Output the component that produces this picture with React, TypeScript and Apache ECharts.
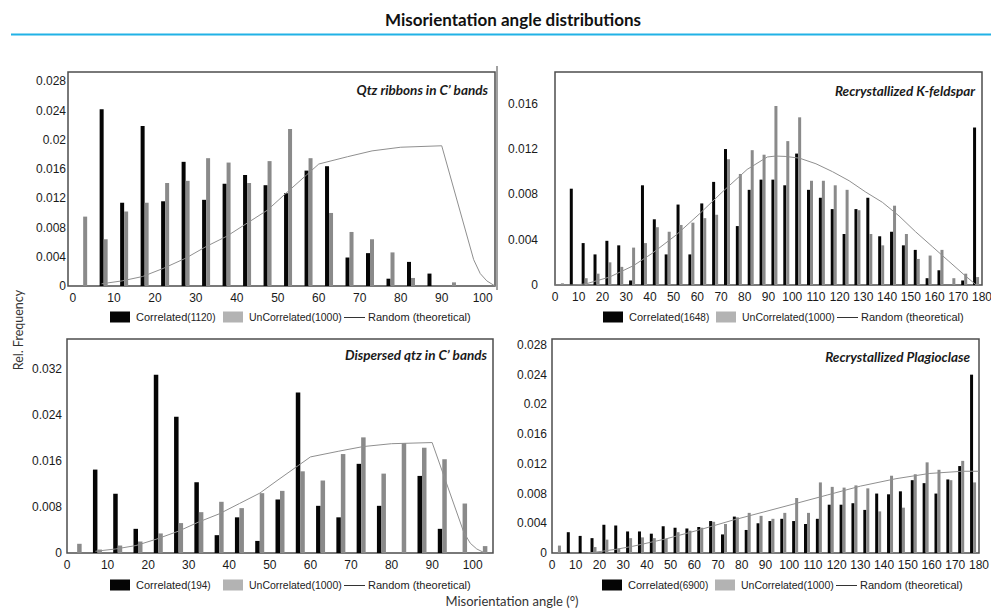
import React, { useEffect, useRef } from "react";
import * as echarts from "echarts";

// ---------- data ----------
const quartzBins = [2.5, 7.5, 12.5, 17.5, 22.5, 27.5, 32.5, 37.5, 42.5, 47.5, 52.5, 57.5, 62.5, 67.5, 72.5, 77.5, 82.5, 87.5, 92.5, 97.5, 102.5];
const feldsparBins = [2.5, 7.5, 12.5, 17.5, 22.5, 27.5, 32.5, 37.5, 42.5, 47.5, 52.5, 57.5, 62.5, 67.5, 72.5, 77.5, 82.5, 87.5, 92.5, 97.5, 102.5, 107.5, 112.5, 117.5, 122.5, 127.5, 132.5, 137.5, 142.5, 147.5, 152.5, 157.5, 162.5, 167.5, 172.5, 177.5];

const quartzTicks = [0, 10, 20, 30, 40, 50, 60, 70, 80, 90, 100];
const wideTicks = [0, 10, 20, 30, 40, 50, 60, 70, 80, 90, 100, 110, 120, 130, 140, 150, 160, 170, 180];
const freqTicks28 = [0, 0.004, 0.008, 0.012, 0.016, 0.02, 0.024, 0.028];
const freqTicks16 = [0, 0.004, 0.008, 0.012, 0.016];
const freqTicks32 = [0, 0.008, 0.016, 0.024, 0.032];

// Qtz ribbons in C' bands
const ribbonsCorr = [0, 0.0242, 0.0114, 0.0219, 0.0116, 0.017, 0.0118, 0.014, 0.0152, 0.0138, 0.0127, 0.0158, 0.0164, 0.0039, 0.0045, 0.001, 0.0033, 0.0017, 0, 0, 0];
const ribbonsUncorr = [0.0095, 0.0064, 0.0102, 0.0114, 0.0141, 0.0144, 0.0175, 0.0169, 0.0141, 0.0171, 0.0215, 0.0175, 0.01, 0.0074, 0.0064, 0.0046, 0.0011, 0, 0.0005, 0, 0];

// Recrystallized K-feldspar
const kfsCorr = [0, 0.0085, 0.0037, 0.0027, 0.0039, 0.0035, 0.0004, 0.0088, 0.0058, 0.0027, 0.0071, 0.0027, 0.0072, 0.0091, 0.012, 0.0052, 0.0084, 0.0093, 0.0093, 0.0088, 0.0116, 0.0084, 0.0077, 0.0067, 0.0045, 0.0067, 0.0077, 0.0043, 0.0047, 0.0035, 0.0031, 0.0006, 0.0013, 0, 0.0004, 0.0139];
const kfsUncorr = [0.00015, 0, 0.0006, 0.001, 0.002, 0.0016, 0.0033, 0.0037, 0.0051, 0.0047, 0.0053, 0.0055, 0.0059, 0.0062, 0.0111, 0.0098, 0.0119, 0.0115, 0.0158, 0.0127, 0.0148, 0.0092, 0.0092, 0.0088, 0.0084, 0.0066, 0.0045, 0.0035, 0.007, 0.0045, 0.0023, 0.0026, 0.0031, 0.0006, 0.001, 0.0007];

// Dispersed qtz in C' bands
const dispCorr = [0, 0.0145, 0.0103, 0.0042, 0.031, 0.0237, 0.0123, 0.0031, 0.0062, 0.0021, 0.0093, 0.0279, 0.0082, 0.0062, 0.0155, 0.0082, 0, 0.0134, 0.0042, 0, 0];
const dispUncorr = [0.0016, 0.0006, 0.0013, 0.002, 0.0034, 0.0052, 0.0071, 0.0089, 0.0078, 0.0104, 0.0108, 0.0142, 0.0126, 0.0172, 0.0201, 0.0138, 0.0191, 0.0183, 0.0163, 0.0086, 0.0012];

// Recrystallized Plagioclase
const plagCorr = [0, 0.0028, 0.0023, 0.002, 0.0038, 0.0037, 0.0029, 0.0029, 0.0026, 0.0036, 0.0034, 0.0033, 0.0035, 0.0043, 0.0025, 0.0049, 0.0031, 0.004, 0.0043, 0.0046, 0.0043, 0.0039, 0.0046, 0.0065, 0.0065, 0.0067, 0.0058, 0.008, 0.0079, 0.0083, 0.0098, 0.0094, 0.008, 0.0099, 0.0117, 0.024];
const plagUncorr = [0.001, 0, 0, 0.0008, 0.0018, 0.0006, 0.002, 0.0021, 0.002, 0.0019, 0.0028, 0.003, 0.0034, 0.0042, 0.0039, 0.0048, 0.0054, 0.005, 0.0046, 0.0054, 0.0074, 0.0054, 0.0095, 0.0089, 0.0088, 0.0091, 0.0087, 0.0056, 0.0104, 0.0061, 0.0106, 0.0122, 0.0112, 0.0098, 0.0124, 0.0095];

// Random (theoretical) curves
const quartzRandomAngle = [7, 12, 17, 22, 27.5, 32.5, 37.5, 42.5, 47.5, 52, 57, 60, 67, 73, 80, 90, 97.8, 99.4, 101, 103];
const quartzRandomFreq = [0.0003, 0.0007, 0.0013, 0.0024, 0.0038, 0.0054, 0.0068, 0.0086, 0.0104, 0.0127, 0.0152, 0.0167, 0.0177, 0.0185, 0.019, 0.0192, 0.0036, 0.0017, 0.0007, 0];
const kfsRandomAngle = [0, 8, 13, 23, 33, 41, 51, 61, 71, 81, 89.5, 93, 97, 103, 110, 117, 124, 131, 138, 145, 152, 159, 166, 173, 177.6];
const kfsRandomFreq = [0, 0, 0.0001, 0.0007, 0.0017, 0.0028, 0.0044, 0.0063, 0.0083, 0.0102, 0.0113, 0.01138, 0.01135, 0.0112, 0.0107, 0.01, 0.0092, 0.0082, 0.0073, 0.0061, 0.0047, 0.0034, 0.0021, 0.0008, 0];
const plagRandomAngle = [15, 18, 27, 34, 48, 62, 76, 89, 102, 116, 130, 145, 159, 173, 180];
const plagRandomFreq = [0, 0.0001, 0.0005, 0.0009, 0.0019, 0.0031, 0.0044, 0.0055, 0.0066, 0.0078, 0.009, 0.01, 0.0107, 0.011, 0.011];

const correlatedCounts = [1120, 1648, 194, 6900];
const uncorrelatedCount = 1000;
const panelTitles = ["Qtz ribbons in C\u2019 bands", "Recrystallized K-feldspar", "Dispersed qtz in C\u2019 bands", "Recrystallized Plagioclase"];

// ---------- styling / layout ----------
const NUM_FONT = '"Liberation Sans", Arial, sans-serif';
const HUM_FONT = 'Lato, "Open Sans", sans-serif';
const BLACK = "#050505";
const GRAY = "#8a8a8a";
const LEGEND_GRAY = "#b3b3b3";

const zip = (xs: number[], ys: number[]) => xs.map((x, i) => [x, ys[i]]);

const panels = [
  { left: 68, top: 72, width: 427, height: 214, xMin: -1.2, xMax: 103, xTicks: quartzTicks, yMax: 0.0293, yTicks: freqTicks28, yMargin: 2, bins: quartzBins, corr: ribbonsCorr, uncorr: ribbonsUncorr, rx: quartzRandomAngle, ry: quartzRandomFreq, barWidth: 4, titleX: 488, titleY: 90, legendX: 110, legendY: 317 },
  { left: 555, top: 72, width: 427, height: 213, xMin: 0, xMax: 180, xTicks: wideTicks, yMax: 0.0188, yTicks: freqTicks16, yMargin: 17, bins: feldsparBins, corr: kfsCorr, uncorr: kfsUncorr, rx: kfsRandomAngle, ry: kfsRandomFreq, barWidth: 3, titleX: 975, titleY: 91, legendX: 603, legendY: 317 },
  { left: 67, top: 339, width: 426, height: 214, xMin: 0, xMax: 105, xTicks: quartzTicks, yMax: 0.0372, yTicks: freqTicks32, yMargin: 5, bins: quartzBins, corr: dispCorr, uncorr: dispUncorr, rx: quartzRandomAngle, ry: quartzRandomFreq, barWidth: 4.5, titleX: 487, titleY: 355, legendX: 110, legendY: 585 },
  { left: 552, top: 339, width: 427, height: 214, xMin: 0, xMax: 180, xTicks: wideTicks, yMax: 0.0288, yTicks: freqTicks28, yMargin: 5, bins: feldsparBins, corr: plagCorr, uncorr: plagUncorr, rx: plagRandomAngle, ry: plagRandomFreq, barWidth: 3, titleX: 970, titleY: 357, legendX: 602, legendY: 585 },
];

function buildOption() {
  const grid = panels.map((p) => ({
    left: p.left, top: p.top, width: p.width, height: p.height,
    show: true, borderColor: "#4d4d4d", borderWidth: 1.5, backgroundColor: "transparent",
    containLabel: false, outerBoundsMode: "none",
  }));
  const xAxis = panels.map((p, i) => ({
    type: "value", gridIndex: i, min: p.xMin, max: p.xMax,
    axisLine: { show: false }, axisTick: { show: false }, splitLine: { show: false },
    axisLabel: { customValues: p.xTicks, margin: 6, fontSize: 12, color: "#1a1a1a", fontFamily: NUM_FONT },
  }));
  const yAxis = panels.map((p, i) => ({
    type: "value", gridIndex: i, min: 0, max: p.yMax,
    axisLine: { show: false }, axisTick: { show: false }, splitLine: { show: false },
    axisLabel: {
      customValues: p.yTicks, margin: p.yMargin, fontSize: 12, color: "#1a1a1a", fontFamily: NUM_FONT,
      formatter: (v: number) => String(Math.round(v * 10000) / 10000),
    },
  }));
  const series: any[] = [];
  panels.forEach((p, i) => {
    series.push({
      type: "bar", name: "Correlated", xAxisIndex: i, yAxisIndex: i,
      data: zip(p.bins, p.corr), barWidth: p.barWidth, barGap: "0%",
      itemStyle: { color: BLACK }, silent: true,
    });
    series.push({
      type: "bar", name: "UnCorrelated", xAxisIndex: i, yAxisIndex: i,
      data: zip(p.bins, p.uncorr), barWidth: p.barWidth, barGap: "0%",
      itemStyle: { color: GRAY }, silent: true,
    });
    series.push({
      type: "line", name: "Random (theoretical)", xAxisIndex: i, yAxisIndex: i,
      data: zip(p.rx, p.ry), showSymbol: false, symbol: "none", z: 5,
      lineStyle: { color: "#8f8f8f", width: 1 }, silent: true,
    });
  });

  const graphic: any[] = [
    {
      type: "text", x: 513, y: 19,
      style: { text: "Misorientation angle distributions", fill: "#111", fontSize: 17, fontWeight: "bold", fontFamily: HUM_FONT, align: "center", verticalAlign: "middle" },
    },
    { type: "line", shape: { x1: 11, y1: 34.5, x2: 991, y2: 34.5 }, style: { stroke: "#21b2e6", lineWidth: 2 } },
    { type: "line", shape: { x1: 497, y1: 66, x2: 497, y2: 290 }, style: { stroke: "#444", lineWidth: 1 } },
    {
      type: "text", x: 18, y: 330, rotation: Math.PI / 2,
      style: { text: "Rel. Frequency", fill: "#333", fontSize: 12.5, fontFamily: HUM_FONT, align: "center", verticalAlign: "middle" },
    },
    {
      type: "text", x: 512, y: 601,
      style: { text: "Misorientation angle (\u00b0)", fill: "#333", fontSize: 13, fontFamily: HUM_FONT, align: "center", verticalAlign: "middle" },
    },
  ];
  panels.forEach((p, i) => {
    graphic.push({
      type: "text", x: p.titleX, y: p.titleY,
      style: { text: panelTitles[i], fill: "#1a1a1a", fontSize: 13.5, fontWeight: "bold", fontStyle: "italic", fontFamily: HUM_FONT, align: "right", verticalAlign: "middle" },
    });
    const lx = p.legendX;
    const ly = p.legendY;
    graphic.push({ type: "rect", shape: { x: lx, y: ly - 5.5, width: 20, height: 11 }, style: { fill: BLACK } });
    graphic.push({
      type: "text", x: lx + 26, y: ly,
      style: {
        text: "{a|Correlated}{b|(" + correlatedCounts[i] + ")}", verticalAlign: "middle", align: "left",
        rich: { a: { fontSize: 11, fontFamily: NUM_FONT, fill: "#222" }, b: { fontSize: 10, fontFamily: NUM_FONT, fill: "#222" } },
      },
    });
    graphic.push({ type: "rect", shape: { x: lx + 113, y: ly - 5.5, width: 20, height: 11 }, style: { fill: LEGEND_GRAY } });
    graphic.push({
      type: "text", x: lx + 139, y: ly,
      style: {
        text: "{a|UnCorrelated}{b|(" + uncorrelatedCount + ")}", verticalAlign: "middle", align: "left",
        rich: { a: { fontSize: 10.5, fontFamily: NUM_FONT, fill: "#222" }, b: { fontSize: 10.5, fontFamily: NUM_FONT, fill: "#222" } },
      },
    });
    graphic.push({ type: "line", shape: { x1: lx + 234, y1: ly + 0.5, x2: lx + 255, y2: ly + 0.5 }, style: { stroke: "#333", lineWidth: 1 } });
    graphic.push({
      type: "text", x: lx + 258, y: ly,
      style: { text: "Random (theoretical)", fontSize: 11, fontFamily: NUM_FONT, fill: "#222", verticalAlign: "middle", align: "left" },
    });
  });

  return { animation: false, backgroundColor: "#ffffff", grid, xAxis, yAxis, series, graphic };
}

export default function App() {
  const ref = useRef<HTMLDivElement>(null);
  useEffect(() => {
    if (!ref.current) return;
    const chart = echarts.init(ref.current, null, { renderer: "svg", width: 991, height: 609 });
    chart.setOption(buildOption() as any);
    return () => chart.dispose();
  }, []);
  return (
    <div
      ref={ref}
      style={{ position: "fixed", left: 0, top: 0, width: 991, height: 609, background: "#fff" }}
    />
  );
}
